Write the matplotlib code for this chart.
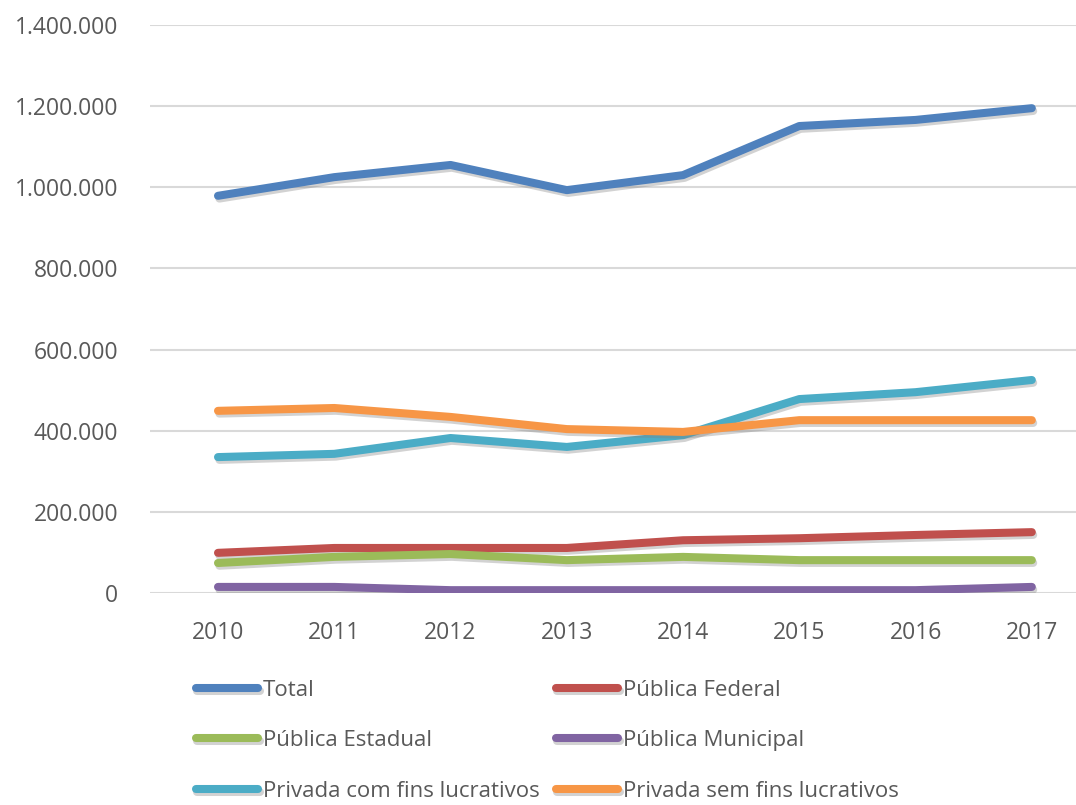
import matplotlib
matplotlib.use("Agg")
import matplotlib.pyplot as plt
import matplotlib.patheffects as pe
from matplotlib.ticker import FuncFormatter

plt.rcParams['font.family'] = ['Open Sans', 'DejaVu Sans']

anos = ["2010", "2011", "2012", "2013", "2014", "2015", "2016", "2017"]
total = [979000, 1025000, 1055000, 993000, 1030000, 1151000, 1166000, 1195000]
publica_federal = [99000, 111000, 111000, 111000, 130000, 135000, 143000, 150000]
publica_estadual = [74000, 89000, 96000, 81000, 89000, 81000, 81000, 81000]
publica_municipal = [15000, 15000, 7000, 7000, 7000, 7000, 7000, 15000]
privada_com_fins = [335000, 343000, 382000, 360000, 389000, 478000, 495000, 525000]
privada_sem_fins = [449000, 456000, 434000, 404000, 397000, 426000, 426000, 426000]

series = [
    ("Total", total, "#4F81BD"),
    ("Pública Federal", publica_federal, "#C0504D"),
    ("Pública Estadual", publica_estadual, "#9BBB59"),
    ("Pública Municipal", publica_municipal, "#8064A2"),
    ("Privada com fins lucrativos", privada_com_fins, "#4BACC6"),
    ("Privada sem fins lucrativos", privada_sem_fins, "#F79646"),
]

fig = plt.figure(figsize=(10.76, 8.05), dpi=100)
ax = fig.add_axes([150 / 1076, 1 - 593 / 805, 926 / 1076, 568 / 805])

x = list(range(len(anos)))
linhas = {}
for nome, valores, cor in series:
    ln, = ax.plot(x, valores, color=cor, lw=5.8, solid_capstyle="round",
                  solid_joinstyle="round", label=nome, zorder=3,
                  path_effects=[pe.SimpleLineShadow(offset=(1, -2), shadow_color="gray", alpha=0.35),
                                pe.Normal()])
    linhas[nome] = ln

ax.set_xlim(-0.585, 7.38)
ax.set_ylim(0, 1400000)
ax.set_yticks(range(0, 1400001, 200000))
ax.yaxis.set_major_formatter(FuncFormatter(lambda v, p: f"{int(v):,}".replace(",", ".")))
ax.set_xticks(x)
ax.set_xticklabels(anos)
ax.grid(axis="y", color="#D9D9D9", lw=1.5, zorder=0)
for s in ax.spines.values():
    s.set_visible(False)
ax.tick_params(axis="both", length=0, labelsize=16.5, labelcolor="#595959")
ax.tick_params(axis="y", pad=23)
ax.tick_params(axis="x", pad=20)

ordem = ["Total", "Pública Estadual", "Privada com fins lucrativos",
         "Pública Federal", "Pública Municipal", "Privada sem fins lucrativos"]
leg = fig.legend([linhas[n] for n in ordem], ordem, ncol=2, loc="upper left",
                 bbox_to_anchor=(187 / 1076, 1 - 671 / 805), frameon=False,
                 fontsize=16, handlelength=2.8, handletextpad=0.2,
                 labelspacing=1.32, columnspacing=0.75, borderaxespad=0)
for t in leg.get_texts():
    t.set_color("#595959")

fig.savefig("out.png", dpi=100)
